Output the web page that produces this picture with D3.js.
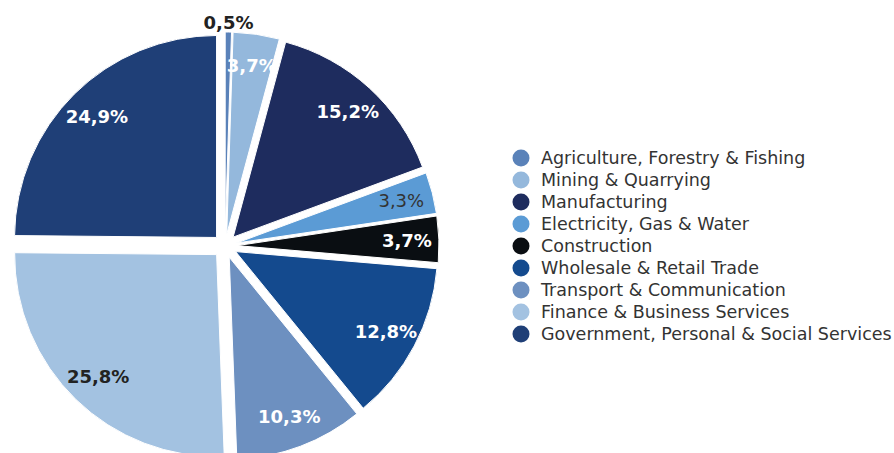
<!DOCTYPE html>
<html>
<head>
<meta charset="utf-8">
<script src="https://cdn.jsdelivr.net/npm/d3@7/dist/d3.min.js"></script>
<style>
  html, body { margin: 0; padding: 0; background: #fff; }
  svg { display: block; font-family: "DejaVu Sans", Verdana, sans-serif; }
</style>
</head>
<body>
<svg id="chart" width="894" height="453"></svg>
<script>
// Sector shares of output (%)
const categories = [
  "Agriculture, Forestry & Fishing",
  "Mining & Quarrying",
  "Manufacturing",
  "Electricity, Gas & Water",
  "Construction",
  "Wholesale & Retail Trade",
  "Transport & Communication",
  "Finance & Business Services",
  "Government, Personal & Social Services"
];
const shares = [0.5, 3.7, 15.2, 3.3, 3.7, 12.8, 10.3, 25.8, 24.9];
const valueLabels = ["0,5%", "3,7%", "15,2%", "3,3%", "3,7%", "12,8%", "10,3%", "25,8%", "24,9%"];
const palette = ["#5a82b9", "#94b8dc", "#1e2c5e", "#5b9bd5", "#0a0e12", "#144a8e", "#6d90c0", "#a3c2e1", "#1f3f77"];

const svg = d3.select("#chart");
const cx = 225, cy = 246, radius = 202, explode = 12;

const rows = categories.map((c, i) => ({ name: c, value: shares[i], label: valueLabels[i], color: palette[i] }));

const pie = d3.pie().value(d => d.value).sort(null);
const arcs = pie(rows);
const arc = d3.arc().innerRadius(0).outerRadius(radius);

const mid = a => (a.startAngle + a.endAngle) / 2;
const offset = (a, r) => [Math.sin(mid(a)) * r, -Math.cos(mid(a)) * r];

const g = svg.append("g").attr("transform", `translate(${cx},${cy})`);

// Exploded slices: each one pushed outward along its bisector
g.selectAll("path.slice")
  .data(arcs)
  .join("path")
  .attr("class", "slice")
  .attr("d", arc)
  .attr("fill", d => d.data.color)
  .attr("stroke", "#fff")
  .attr("stroke-width", 1)
  .attr("transform", d => `translate(${offset(d, explode)})`);

// Label styling: tiny slices get an outside label; a few labels use dark text
const darkBold = new Set(["Agriculture, Forestry & Fishing", "Finance & Business Services"]);
const darkPlain = new Set(["Electricity, Gas & Water"]);

g.selectAll("text.val")
  .data(arcs)
  .join("text")
  .attr("class", "val")
  .attr("text-anchor", "middle")
  .attr("dominant-baseline", "central")
  .attr("font-size", 18)
  .attr("font-weight", d => darkPlain.has(d.data.name) ? "normal" : "bold")
  .attr("fill", d => (darkBold.has(d.data.name) ? "#222" : darkPlain.has(d.data.name) ? "#333" : "#fff"))
  .attr("transform", d => {
    const outside = d.data.value < 1;
    const r = outside ? radius + 22 : 170 + explode;
    const [x, y] = offset(d, r);
    return `translate(${x},${y})`;
  })
  .text(d => d.data.label);

// Legend
const legend = svg.append("g").attr("transform", "translate(521,158)");
const item = legend.selectAll("g.item")
  .data(rows)
  .join("g")
  .attr("class", "item")
  .attr("transform", (d, i) => `translate(0,${i * 22})`);

item.append("circle")
  .attr("r", 8.5)
  .attr("fill", d => d.color);

item.append("text")
  .attr("x", 20)
  .attr("dominant-baseline", "central")
  .attr("font-size", 17.5)
  .attr("fill", "#333")
  .text(d => d.name);
</script>
</body>
</html>
